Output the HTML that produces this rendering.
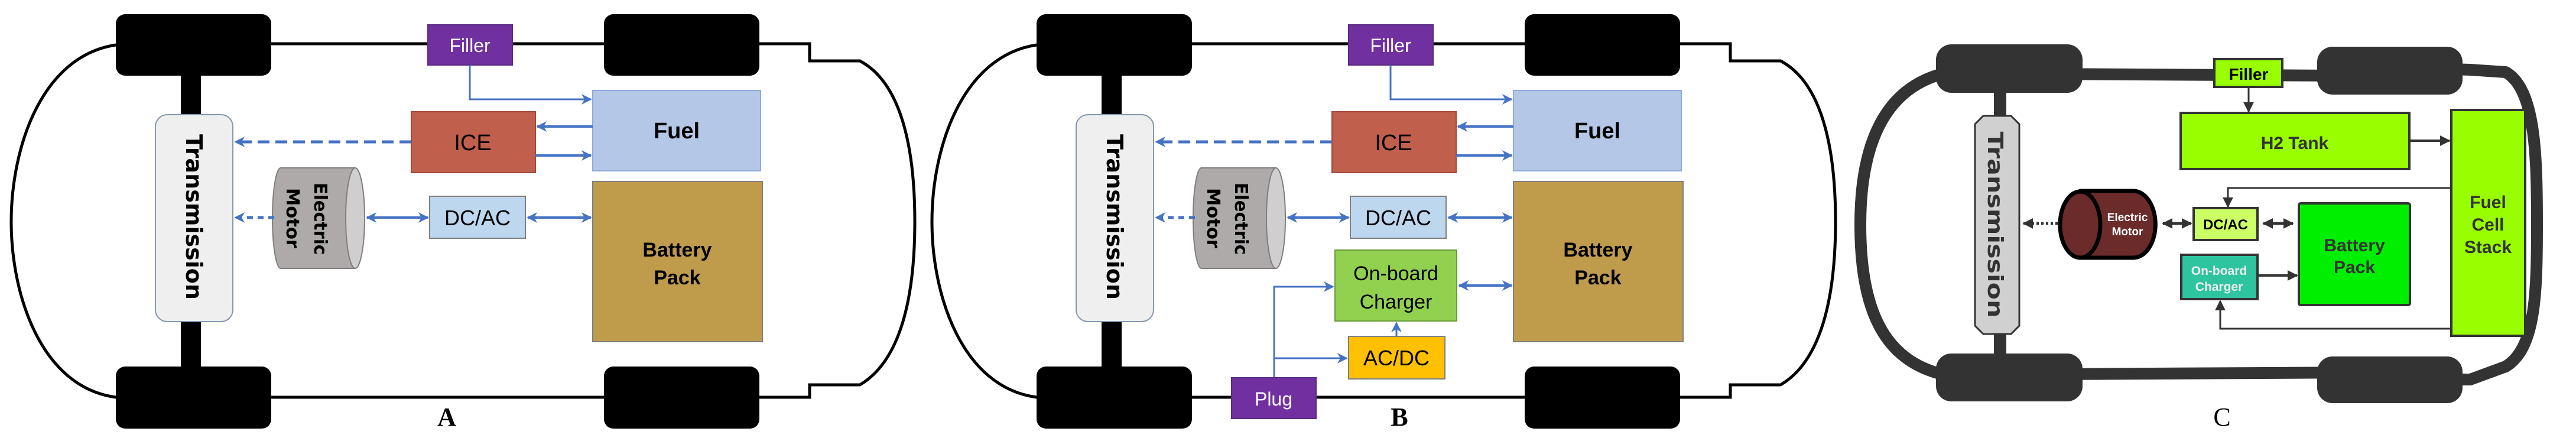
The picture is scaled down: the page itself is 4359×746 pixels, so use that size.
<!DOCTYPE html>
<html><head><meta charset="utf-8"><style>
html,body{margin:0;padding:0;background:#fff}
svg{display:block}
.c{font-family:"Liberation Sans Narrow","Liberation Sans",sans-serif}
.v{font-family:"DejaVu Sans","Liberation Sans",sans-serif}
.s{font-family:"Liberation Serif",serif}
</style></head><body>
<svg width="4359" height="746" viewBox="0 0 4359 746" xmlns="http://www.w3.org/2000/svg">
<defs>
<marker id="b" viewBox="0 0 10 10" refX="9" refY="5" markerWidth="18" markerHeight="20" orient="auto-start-reverse" markerUnits="userSpaceOnUse"><path d="M0 0 L10 5 L0 10 L3 5 Z" fill="#4472c4"/></marker>
<marker id="k" viewBox="0 0 10 10" refX="9" refY="5" markerWidth="18" markerHeight="20" orient="auto-start-reverse" markerUnits="userSpaceOnUse"><path d="M0 0 L10 5 L0 10 Z" fill="#333"/></marker>
</defs>

<!-- ===== Panel A ===== -->
<g id="A">
<path d="M196 76 C70 95 19 250 19 375 C19 500 70 655 196 672 L1370 672 L1370 651 L1455 651 C1525 610 1548 500 1548 375 C1548 250 1525 140 1455 103 L1370 103 L1370 74 L196 74" fill="none" stroke="#000" stroke-width="5"/>
<rect x="306" y="120" width="34" height="510" fill="#000"/>
<rect x="196" y="24" width="263" height="104" rx="16" fill="#000"/>
<rect x="1022" y="24" width="263" height="104" rx="16" fill="#000"/>
<rect x="196" y="620" width="263" height="105" rx="16" fill="#000"/>
<rect x="1022" y="620" width="263" height="105" rx="16" fill="#000"/>
<rect x="263" y="194" width="131" height="350" rx="20" fill="#efefef" stroke="#8497b0" stroke-width="2"/>
<text class="v" transform="translate(315,367) rotate(90)" font-size="38" font-weight="bold" text-anchor="middle" textLength="280" lengthAdjust="spacingAndGlyphs">Transmission</text>
<rect x="724" y="42" width="143" height="68" fill="#7030a0" stroke="#5a2a80" stroke-width="2"/>
<text class="c" x="795" y="88" font-size="32" fill="#fff" text-anchor="middle">Filler</text>
<path d="M795 110 V168 H1000" fill="none" stroke="#4472c4" stroke-width="3" marker-end="url(#b)"/>
<rect x="1003" y="153" width="284" height="136" fill="#b4c7e7" stroke="#8faadc" stroke-width="2"/>
<text class="c" x="1145" y="234" font-size="38" font-weight="bold" text-anchor="middle">Fuel</text>
<rect x="696" y="189" width="210" height="103" fill="#c0604c" stroke="#a04838" stroke-width="2"/>
<text class="c" x="800" y="254" font-size="38" text-anchor="middle">ICE</text>
<path d="M1003 214 H909" stroke="#4472c4" stroke-width="4" marker-end="url(#b)"/>
<path d="M906 263 H1000" stroke="#4472c4" stroke-width="4" marker-end="url(#b)"/>
<path d="M696 240 H398" stroke="#4472c4" stroke-width="5" stroke-dasharray="20,10" marker-end="url(#b)"/>
<path d="M475 284 H600 A16 85 0 0 1 600 454 H475 A14 85 0 0 1 475 284 Z" fill="#aeaaaa" stroke="#7f7f7f" stroke-width="2"/>
<ellipse cx="601" cy="369" rx="16" ry="85" fill="#d0cece" stroke="#7f7f7f" stroke-width="2"/>
<text class="v" transform="translate(532,309) rotate(90)" font-size="30" font-weight="bold" textLength="122" lengthAdjust="spacingAndGlyphs">Electric</text>
<text class="v" transform="translate(485,318) rotate(90)" font-size="30" font-weight="bold" textLength="102" lengthAdjust="spacingAndGlyphs">Motor</text>
<path d="M464 368 H398" stroke="#4472c4" stroke-width="5" stroke-dasharray="10,8" marker-end="url(#b)"/>
<rect x="727" y="332" width="162" height="71" fill="#bdd7ee" stroke="#7f7f7f" stroke-width="2"/>
<text class="c" x="808" y="381" font-size="36" text-anchor="middle">DC/AC</text>
<path d="M621 368 H724" stroke="#4472c4" stroke-width="4" marker-start="url(#b)" marker-end="url(#b)"/>
<path d="M893 368 H1000" stroke="#4472c4" stroke-width="4" marker-start="url(#b)" marker-end="url(#b)"/>
<rect x="1003" y="307" width="287" height="271" fill="#bf9b4c" stroke="#7f7f7f" stroke-width="2"/>
<text class="c" x="1146" y="434" font-size="34" font-weight="bold" text-anchor="middle">Battery</text>
<text class="c" x="1146" y="481" font-size="34" font-weight="bold" text-anchor="middle">Pack</text>
<text class="s" x="756" y="720" font-size="44" font-weight="bold" text-anchor="middle">A</text>
</g>

<!-- ===== Panel B ===== -->
<g transform="translate(1558,0)">
<path d="M196 76 C70 95 19 250 19 375 C19 500 70 655 196 672 L1370 672 L1370 651 L1455 651 C1525 610 1548 500 1548 375 C1548 250 1525 140 1455 103 L1370 103 L1370 74 L196 74" fill="none" stroke="#000" stroke-width="5"/>
<rect x="306" y="120" width="34" height="510" fill="#000"/>
<rect x="196" y="24" width="263" height="104" rx="16" fill="#000"/>
<rect x="1022" y="24" width="263" height="104" rx="16" fill="#000"/>
<rect x="196" y="620" width="263" height="105" rx="16" fill="#000"/>
<rect x="1022" y="620" width="263" height="105" rx="16" fill="#000"/>
<rect x="263" y="194" width="131" height="350" rx="20" fill="#efefef" stroke="#8497b0" stroke-width="2"/>
<text class="v" transform="translate(315,367) rotate(90)" font-size="38" font-weight="bold" text-anchor="middle" textLength="280" lengthAdjust="spacingAndGlyphs">Transmission</text>
<rect x="724" y="42" width="143" height="68" fill="#7030a0" stroke="#5a2a80" stroke-width="2"/>
<text class="c" x="795" y="88" font-size="32" fill="#fff" text-anchor="middle">Filler</text>
<path d="M795 110 V168 H1000" fill="none" stroke="#4472c4" stroke-width="3" marker-end="url(#b)"/>
<rect x="1003" y="153" width="284" height="136" fill="#b4c7e7" stroke="#8faadc" stroke-width="2"/>
<text class="c" x="1145" y="234" font-size="38" font-weight="bold" text-anchor="middle">Fuel</text>
<rect x="696" y="189" width="210" height="103" fill="#c0604c" stroke="#a04838" stroke-width="2"/>
<text class="c" x="800" y="254" font-size="38" text-anchor="middle">ICE</text>
<path d="M1003 214 H909" stroke="#4472c4" stroke-width="4" marker-end="url(#b)"/>
<path d="M906 263 H1000" stroke="#4472c4" stroke-width="4" marker-end="url(#b)"/>
<path d="M696 240 H398" stroke="#4472c4" stroke-width="5" stroke-dasharray="20,10" marker-end="url(#b)"/>
<path d="M475 284 H600 A16 85 0 0 1 600 454 H475 A14 85 0 0 1 475 284 Z" fill="#aeaaaa" stroke="#7f7f7f" stroke-width="2"/>
<ellipse cx="601" cy="369" rx="16" ry="85" fill="#d0cece" stroke="#7f7f7f" stroke-width="2"/>
<text class="v" transform="translate(532,309) rotate(90)" font-size="30" font-weight="bold" textLength="122" lengthAdjust="spacingAndGlyphs">Electric</text>
<text class="v" transform="translate(485,318) rotate(90)" font-size="30" font-weight="bold" textLength="102" lengthAdjust="spacingAndGlyphs">Motor</text>
<path d="M464 368 H398" stroke="#4472c4" stroke-width="5" stroke-dasharray="10,8" marker-end="url(#b)"/>
<rect x="727" y="332" width="162" height="71" fill="#bdd7ee" stroke="#7f7f7f" stroke-width="2"/>
<text class="c" x="808" y="381" font-size="36" text-anchor="middle">DC/AC</text>
<path d="M621 368 H724" stroke="#4472c4" stroke-width="4" marker-start="url(#b)" marker-end="url(#b)"/>
<path d="M893 368 H1000" stroke="#4472c4" stroke-width="4" marker-start="url(#b)" marker-end="url(#b)"/>
<rect x="1003" y="307" width="287" height="271" fill="#bf9b4c" stroke="#7f7f7f" stroke-width="2"/>
<text class="c" x="1146" y="434" font-size="34" font-weight="bold" text-anchor="middle">Battery</text>
<text class="c" x="1146" y="481" font-size="34" font-weight="bold" text-anchor="middle">Pack</text>
<rect x="701" y="423" width="206" height="120" fill="#92d050" stroke="#6a9a3a" stroke-width="2"/>
<text class="c" x="804" y="474" font-size="34" text-anchor="middle">On-board</text>
<text class="c" x="804" y="522" font-size="34" text-anchor="middle">Charger</text>
<rect x="724" y="569" width="163" height="72" fill="#ffc000" stroke="#7f7f7f" stroke-width="2"/>
<text class="c" x="805" y="618" font-size="36" text-anchor="middle">AC/DC</text>
<path d="M805 569 V546" stroke="#4472c4" stroke-width="3" marker-end="url(#b)"/>
<path d="M911 483 H1000" stroke="#4472c4" stroke-width="4" marker-start="url(#b)" marker-end="url(#b)"/>
<path d="M598 639 V485 H698" fill="none" stroke="#4472c4" stroke-width="3" marker-end="url(#b)"/>
<path d="M598 606 H721" fill="none" stroke="#4472c4" stroke-width="3" marker-end="url(#b)"/>
<rect x="526" y="639" width="143" height="69" fill="#7030a0" stroke="#5a2a80" stroke-width="2"/>
<text class="c" x="597" y="686" font-size="32" fill="#fff" text-anchor="middle">Plug</text>
<text class="s" x="810" y="720" font-size="44" font-weight="bold" text-anchor="middle">B</text>
</g>

<!-- ===== Panel C ===== -->
<g>
<path d="M3290 124 C3185 150 3148 250 3148 380 C3148 520 3185 610 3290 634 L4000 630 L4035 642 L4180 642 L4240 620 C4290 590 4293 500 4293 380 C4293 260 4290 150 4240 122 L4180 118 L3990 112 L3960 128 L3290 124" fill="none" stroke="#333" stroke-width="20" stroke-linejoin="round"/>
<rect x="3374" y="150" width="21" height="460" fill="#333"/>
<rect x="3276" y="75" width="248" height="82" rx="26" fill="#333"/>
<rect x="3921" y="79" width="246" height="81" rx="26" fill="#333"/>
<rect x="3276" y="598" width="248" height="81" rx="26" fill="#333"/>
<rect x="3921" y="603" width="246" height="79" rx="26" fill="#333"/>
<path d="M3356 196 H3403 L3417 210 V551 L3403 565 H3356 L3342 551 V210 Z" fill="#d0d0d0" stroke="#333" stroke-width="3"/>
<text class="v" transform="translate(3364,380) rotate(90)" font-size="36" font-weight="bold" fill="#333" text-anchor="middle" textLength="315" lengthAdjust="spacingAndGlyphs">Transmission</text>
<rect x="3747" y="100" width="115" height="47" fill="#99ff00" stroke="#333" stroke-width="4"/>
<text class="c" x="3805" y="135" font-size="28" font-weight="bold" text-anchor="middle">Filler</text>
<path d="M3805 149 V189" stroke="#333" stroke-width="3" marker-end="url(#k)"/>
<rect x="3690" y="191" width="387" height="95" fill="#99ff00" stroke="#333" stroke-width="4"/>
<text class="c" x="3883" y="252" font-size="30" font-weight="bold" fill="#333" text-anchor="middle">H2 Tank</text>
<path d="M4079 238 H4145" stroke="#333" stroke-width="4" marker-end="url(#k)"/>
<rect x="4148" y="186" width="125" height="382" fill="#99ff00" stroke="#333" stroke-width="4"/>
<text class="c" x="4210" y="352" font-size="30" font-weight="bold" fill="#333" text-anchor="middle">Fuel</text>
<text class="c" x="4210" y="390" font-size="30" font-weight="bold" fill="#333" text-anchor="middle">Cell</text>
<text class="c" x="4210" y="428" font-size="30" font-weight="bold" fill="#333" text-anchor="middle">Stack</text>
<path d="M4148 318 H3770 V350" fill="none" stroke="#333" stroke-width="3" marker-end="url(#k)"/>
<rect x="3712" y="352" width="108" height="54" fill="#ccff66" stroke="#333" stroke-width="4"/>
<text class="c" x="3766" y="388" font-size="24" font-weight="bold" text-anchor="middle">DC/AC</text>
<path d="M3520 323 H3610 A37 56 0 0 1 3610 436 H3520 Z" fill="#6b2b2b" stroke="#000" stroke-width="7" stroke-linejoin="round"/>
<ellipse cx="3520" cy="380" rx="34" ry="56" fill="#6b2b2b" stroke="#000" stroke-width="7"/>
<text class="c" x="3600" y="374" font-size="19" font-weight="bold" fill="#fff" text-anchor="middle">Electric</text>
<text class="c" x="3600" y="398" font-size="19" font-weight="bold" fill="#fff" text-anchor="middle">Motor</text>
<path d="M3482 378 H3424" stroke="#333" stroke-width="5" stroke-dasharray="4,4" marker-end="url(#k)"/>
<path d="M3660 378 H3708" stroke="#333" stroke-width="5" marker-start="url(#k)" marker-end="url(#k)"/>
<path d="M3830 378 H3880" stroke="#333" stroke-width="5" marker-start="url(#k)" marker-end="url(#k)"/>
<rect x="3890" y="344" width="188" height="172" rx="3" fill="#00ee00" stroke="#333" stroke-width="4"/>
<text class="c" x="3984" y="425" font-size="30" font-weight="bold" fill="#333" text-anchor="middle">Battery</text>
<text class="c" x="3984" y="462" font-size="30" font-weight="bold" fill="#333" text-anchor="middle">Pack</text>
<rect x="3691" y="431" width="129" height="75" fill="#2ec4a0" stroke="#333" stroke-width="4"/>
<text class="c" x="3755" y="465" font-size="21" font-weight="bold" fill="#eee" text-anchor="middle">On-board</text>
<text class="c" x="3755" y="492" font-size="21" font-weight="bold" fill="#eee" text-anchor="middle">Charger</text>
<path d="M3822 466 H3887" stroke="#333" stroke-width="4" marker-end="url(#k)"/>
<path d="M4148 556 H3757 V509" fill="none" stroke="#333" stroke-width="3" marker-end="url(#k)"/>
<text class="s" x="3760" y="720" font-size="44" text-anchor="middle">C</text>
</g>
</svg>
</body></html>
